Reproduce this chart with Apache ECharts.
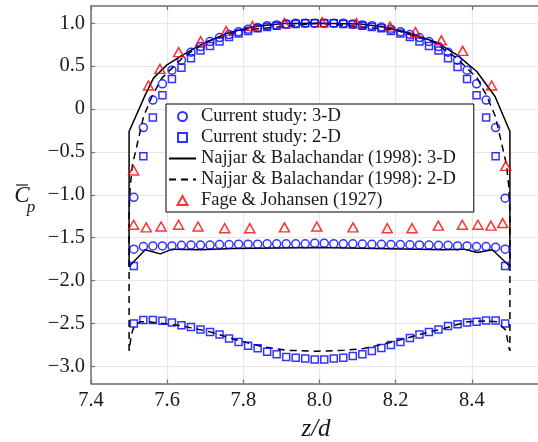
<!DOCTYPE html>
<html><head><meta charset="utf-8">
<script src="https://cdn.jsdelivr.net/npm/echarts@6/dist/echarts.min.js"></script>
<style>html,body{margin:0;padding:0;background:#fff}#c{width:538px;height:442px}</style>
</head><body><div id="c"></div>
<script>
// spanwise positions of the current-study probes
const zPts = [7.5125,7.5375,7.5625,7.5875,7.6125,7.6375,7.6625,7.6875,7.7125,7.7375,
  7.7625,7.7875,7.8125,7.8375,7.8625,7.8875,7.9125,7.9375,7.9625,7.9875,
  8.0125,8.0375,8.0625,8.0875,8.1125,8.1375,8.1625,8.1875,8.2125,8.2375,
  8.2625,8.2875,8.3125,8.3375,8.3625,8.3875,8.4125,8.4375,8.4625,8.4875];
const cp3dUpper = [-1.03,-0.217,0.103,0.293,0.452,0.569,0.662,0.727,0.786,0.832,
  0.867,0.899,0.930,0.949,0.969,0.980,0.992,1.0,1.0,1.0,
  1.0,1.0,1.0,0.99,0.98,0.97,0.955,0.93,0.90,0.867,
  0.832,0.786,0.727,0.662,0.569,0.452,0.293,0.103,-0.217,-1.04];
const cp3dLower = [-1.634,-1.604,-1.596,-1.596,-1.596,-1.59,-1.587,-1.587,-1.587,-1.58,
  -1.58,-1.576,-1.576,-1.576,-1.572,-1.572,-1.572,-1.572,-1.572,-1.565,
  -1.565,-1.57,-1.572,-1.572,-1.575,-1.578,-1.578,-1.58,-1.58,-1.583,
  -1.585,-1.587,-1.59,-1.59,-1.596,-1.596,-1.604,-1.604,-1.611,-1.634];
const cp2dUpper = [-1.83,-0.55,-0.10,0.16,0.35,0.48,0.59,0.68,0.735,0.785,
  0.84,0.88,0.91,0.94,0.955,0.97,0.985,0.99,1.0,1.0,
  1.0,1.0,0.99,0.985,0.97,0.955,0.94,0.91,0.88,0.84,
  0.785,0.735,0.68,0.59,0.49,0.35,0.16,-0.10,-0.55,-1.83];
const cp2dLower = [-2.50,-2.46,-2.46,-2.47,-2.49,-2.52,-2.54,-2.57,-2.60,-2.63,
  -2.675,-2.715,-2.76,-2.79,-2.83,-2.86,-2.89,-2.90,-2.91,-2.92,
  -2.92,-2.91,-2.90,-2.88,-2.86,-2.82,-2.785,-2.75,-2.715,-2.67,
  -2.63,-2.60,-2.57,-2.53,-2.51,-2.49,-2.48,-2.465,-2.465,-2.50];
// Najjar & Balachandar (1998) 3-D, closed outline
const nb3dZ = [7.5,7.5,7.5425,7.564,7.5995,7.634,7.687,7.757,7.827,7.906,8.0,8.107,8.168,8.238,8.308,8.361,8.413,8.461,8.5,
  8.5,8.454,8.414,8.379,8.326,8.0,7.774,7.687,7.613,7.582,7.5425,7.5];
const nb3dCp = [-1.837,-0.263,0.164,0.359,0.514,0.611,0.747,0.883,0.96,0.995,1.0,0.99,0.955,0.883,0.774,0.631,0.436,0.145,-0.263,
  -1.837,-1.642,-1.674,-1.634,-1.642,-1.615,-1.627,-1.642,-1.634,-1.689,-1.642,-1.837];
// Najjar & Balachandar (1998) 2-D, closed outline
const nb2dZ = [7.5,7.5,7.503,7.509,7.52,7.538,7.56,7.586,7.639,7.7,7.8,8.0,8.2,8.3,8.361,8.414,8.44,8.462,8.48,8.491,8.497,8.5,
  8.5,8.497,8.489,8.466,8.44,8.388,8.326,8.257,8.186,8.116,8.064,7.994,7.915,7.853,7.784,7.713,7.639,7.551,7.53,7.515,7.508,7.503,7.5];
const nb2dCp = [-2.82,-1.2,-0.9,-0.65,-0.438,-0.089,0.145,0.359,0.59,0.78,0.92,1.0,0.92,0.78,0.59,0.359,0.145,-0.089,-0.438,-0.65,-0.9,-1.2,
  -2.82,-2.774,-2.578,-2.48,-2.47,-2.48,-2.559,-2.637,-2.722,-2.793,-2.813,-2.824,-2.813,-2.774,-2.695,-2.598,-2.528,-2.48,-2.48,-2.52,-2.6,-2.72,-2.82];
// Fage & Johansen (1927)
const fjUpperZ = [7.512,7.551,7.581,7.63,7.688,7.755,7.824,7.908,8.007,8.097,8.185,8.252,8.32,8.376,8.452,8.489];
const fjUpperCp = [-0.718,0.273,0.467,0.662,0.79,0.907,0.965,1.0,1.012,1.0,0.96,0.895,0.80,0.677,0.273,-0.663];
const fjLowerZ = [7.512,7.545,7.584,7.63,7.681,7.751,7.817,7.908,7.993,8.088,8.178,8.243,8.312,8.375,8.416,8.45,8.481];
const fjLowerCp = [-1.35,-1.38,-1.37,-1.35,-1.37,-1.39,-1.39,-1.38,-1.37,-1.38,-1.39,-1.39,-1.36,-1.35,-1.35,-1.36,-1.33];

const xTicks = [7.4,7.6,7.8,8.0,8.2,8.4,8.6];
const xTickLabels = [7.4,7.6,7.8,8.0,8.2,8.4];
const yTicks = [-3.0,-2.5,-2.0,-1.5,-1.0,-0.5,0,0.5,1.0];
const names = ['Current study: 3-D','Current study: 2-D','Najjar & Balachandar (1998): 3-D','Najjar & Balachandar (1998): 2-D','Fage & Johansen (1927)'];

const zip = (a,b) => a.map((v,i)=>[v,b[i]]);
const FONT = 'Liberation Serif';
const AX = '#6e6e6e';
const GRIDC = '#e8e8e8';

const chart = echarts.init(document.getElementById('c'));
const fmtY = v => (v === 0 ? '0' : (v < 0 ? '\u2212' : '') + Math.abs(v).toFixed(1));
const fmtX = v => Number(v).toFixed(1);
chart.setOption({
  animation:false,
  backgroundColor:'#fff',
  grid:{left:91, top:6, width:457, height:377.5, outerBoundsMode:'none'},
  xAxis:[{
    type:'value', min:7.4, max:8.6, interval:0.2, position:'bottom',
    axisLine:{show:true, onZero:false, lineStyle:{color:AX, width:1.5}},
    axisTick:{show:true, inside:true, length:4, lineStyle:{color:AX, width:1.2}, customValues:xTicks},
    axisLabel:{customValues:xTickLabels, formatter:fmtX, fontFamily:FONT, fontSize:20.5, color:'#1a1a1a', margin:7},
    splitLine:{show:true, lineStyle:{color:GRIDC, width:1.2}}
  },{
    type:'value', min:7.4, max:8.6, interval:0.2, position:'top',
    axisLine:{show:true, onZero:false, lineStyle:{color:AX, width:1.5}},
    axisTick:{show:true, inside:true, length:4, lineStyle:{color:AX, width:1.2}},
    axisLabel:{show:false}, splitLine:{show:false}
  }],
  yAxis:[{
    type:'value', min:-3.2, max:1.2,
    axisLine:{show:true, onZero:false, lineStyle:{color:AX, width:1.5}},
    axisTick:{show:true, inside:true, length:4, lineStyle:{color:AX, width:1.2}, customValues:yTicks},
    axisLabel:{customValues:yTicks, formatter:fmtY, fontFamily:FONT, fontSize:20.5, color:'#1a1a1a', margin:6},
    splitLine:{show:true, lineStyle:{color:GRIDC, width:1.2}}
  }],
  legend:{
    orient:'vertical', left:166, top:104,
    itemWidth:27, itemHeight:9, itemGap:2,
    padding:[3,18,2,2],
    backgroundColor:'#fff', borderColor:'#000', borderWidth:1, borderRadius:0,
    textStyle:{fontFamily:FONT, fontSize:18.5, color:'#1a1a1a', lineHeight:19},
    data:[
      {name:names[0], icon:'circle'},
      {name:names[1], icon:'path://M0,0H1V1H0Z'},
      {name:names[2], itemStyle:{opacity:0}},
      {name:names[3], itemStyle:{opacity:0}},
      {name:names[4], icon:'path://M0.55,0L1.1,1L0,1Z'}
    ]
  },
  series:[
    {name:names[2], type:'line', data:zip(nb3dZ, nb3dCp), symbol:'none', z:1,
      lineStyle:{color:'#000', width:1.5, type:'solid'}, itemStyle:{color:'#000'}},
    {name:names[3], type:'line', data:zip(nb2dZ, nb2dCp), symbol:'none', z:1,
      lineStyle:{color:'#000', width:1.5, type:[7,5]}, itemStyle:{color:'#000'}},
    {name:names[0], type:'scatter', symbol:'circle', symbolSize:8, z:3,
      data:zip(zPts, cp3dUpper).concat(zip(zPts, cp3dLower)),
      itemStyle:{color:'rgba(0,0,0,0)', borderColor:'#0000ff', borderWidth:1.5}},
    {name:names[1], type:'scatter', symbol:'rect', symbolSize:7, z:3,
      data:zip(zPts, cp2dUpper).concat(zip(zPts, cp2dLower)),
      itemStyle:{color:'rgba(0,0,0,0)', borderColor:'#0000ff', borderWidth:1.5}},
    {name:names[4], type:'scatter', symbol:'triangle', symbolSize:[10,9], z:3,
      data:zip(fjUpperZ, fjUpperCp).concat(zip(fjLowerZ, fjLowerCp)),
      itemStyle:{color:'rgba(0,0,0,0)', borderColor:'#ff0000', borderWidth:1.5}}
  ],
  graphic:[
    {type:'text', style:{x:316, y:429, text:'z/d', font:'italic 25px "Liberation Serif"', fill:'#1a1a1a', align:'center', verticalAlign:'middle'}},
    {type:'text', style:{x:22, y:196, text:'C', font:'italic 23px "Liberation Serif"', fill:'#1a1a1a', align:'center', verticalAlign:'middle'}},
    {type:'line', shape:{x1:16, y1:185, x2:28, y2:185}, style:{stroke:'#1a1a1a', lineWidth:1.2}},
    {type:'text', style:{x:31, y:208, text:'p', font:'italic 17px "Liberation Serif"', fill:'#1a1a1a', align:'center', verticalAlign:'middle'}}
  ]
});
</script></body></html>
